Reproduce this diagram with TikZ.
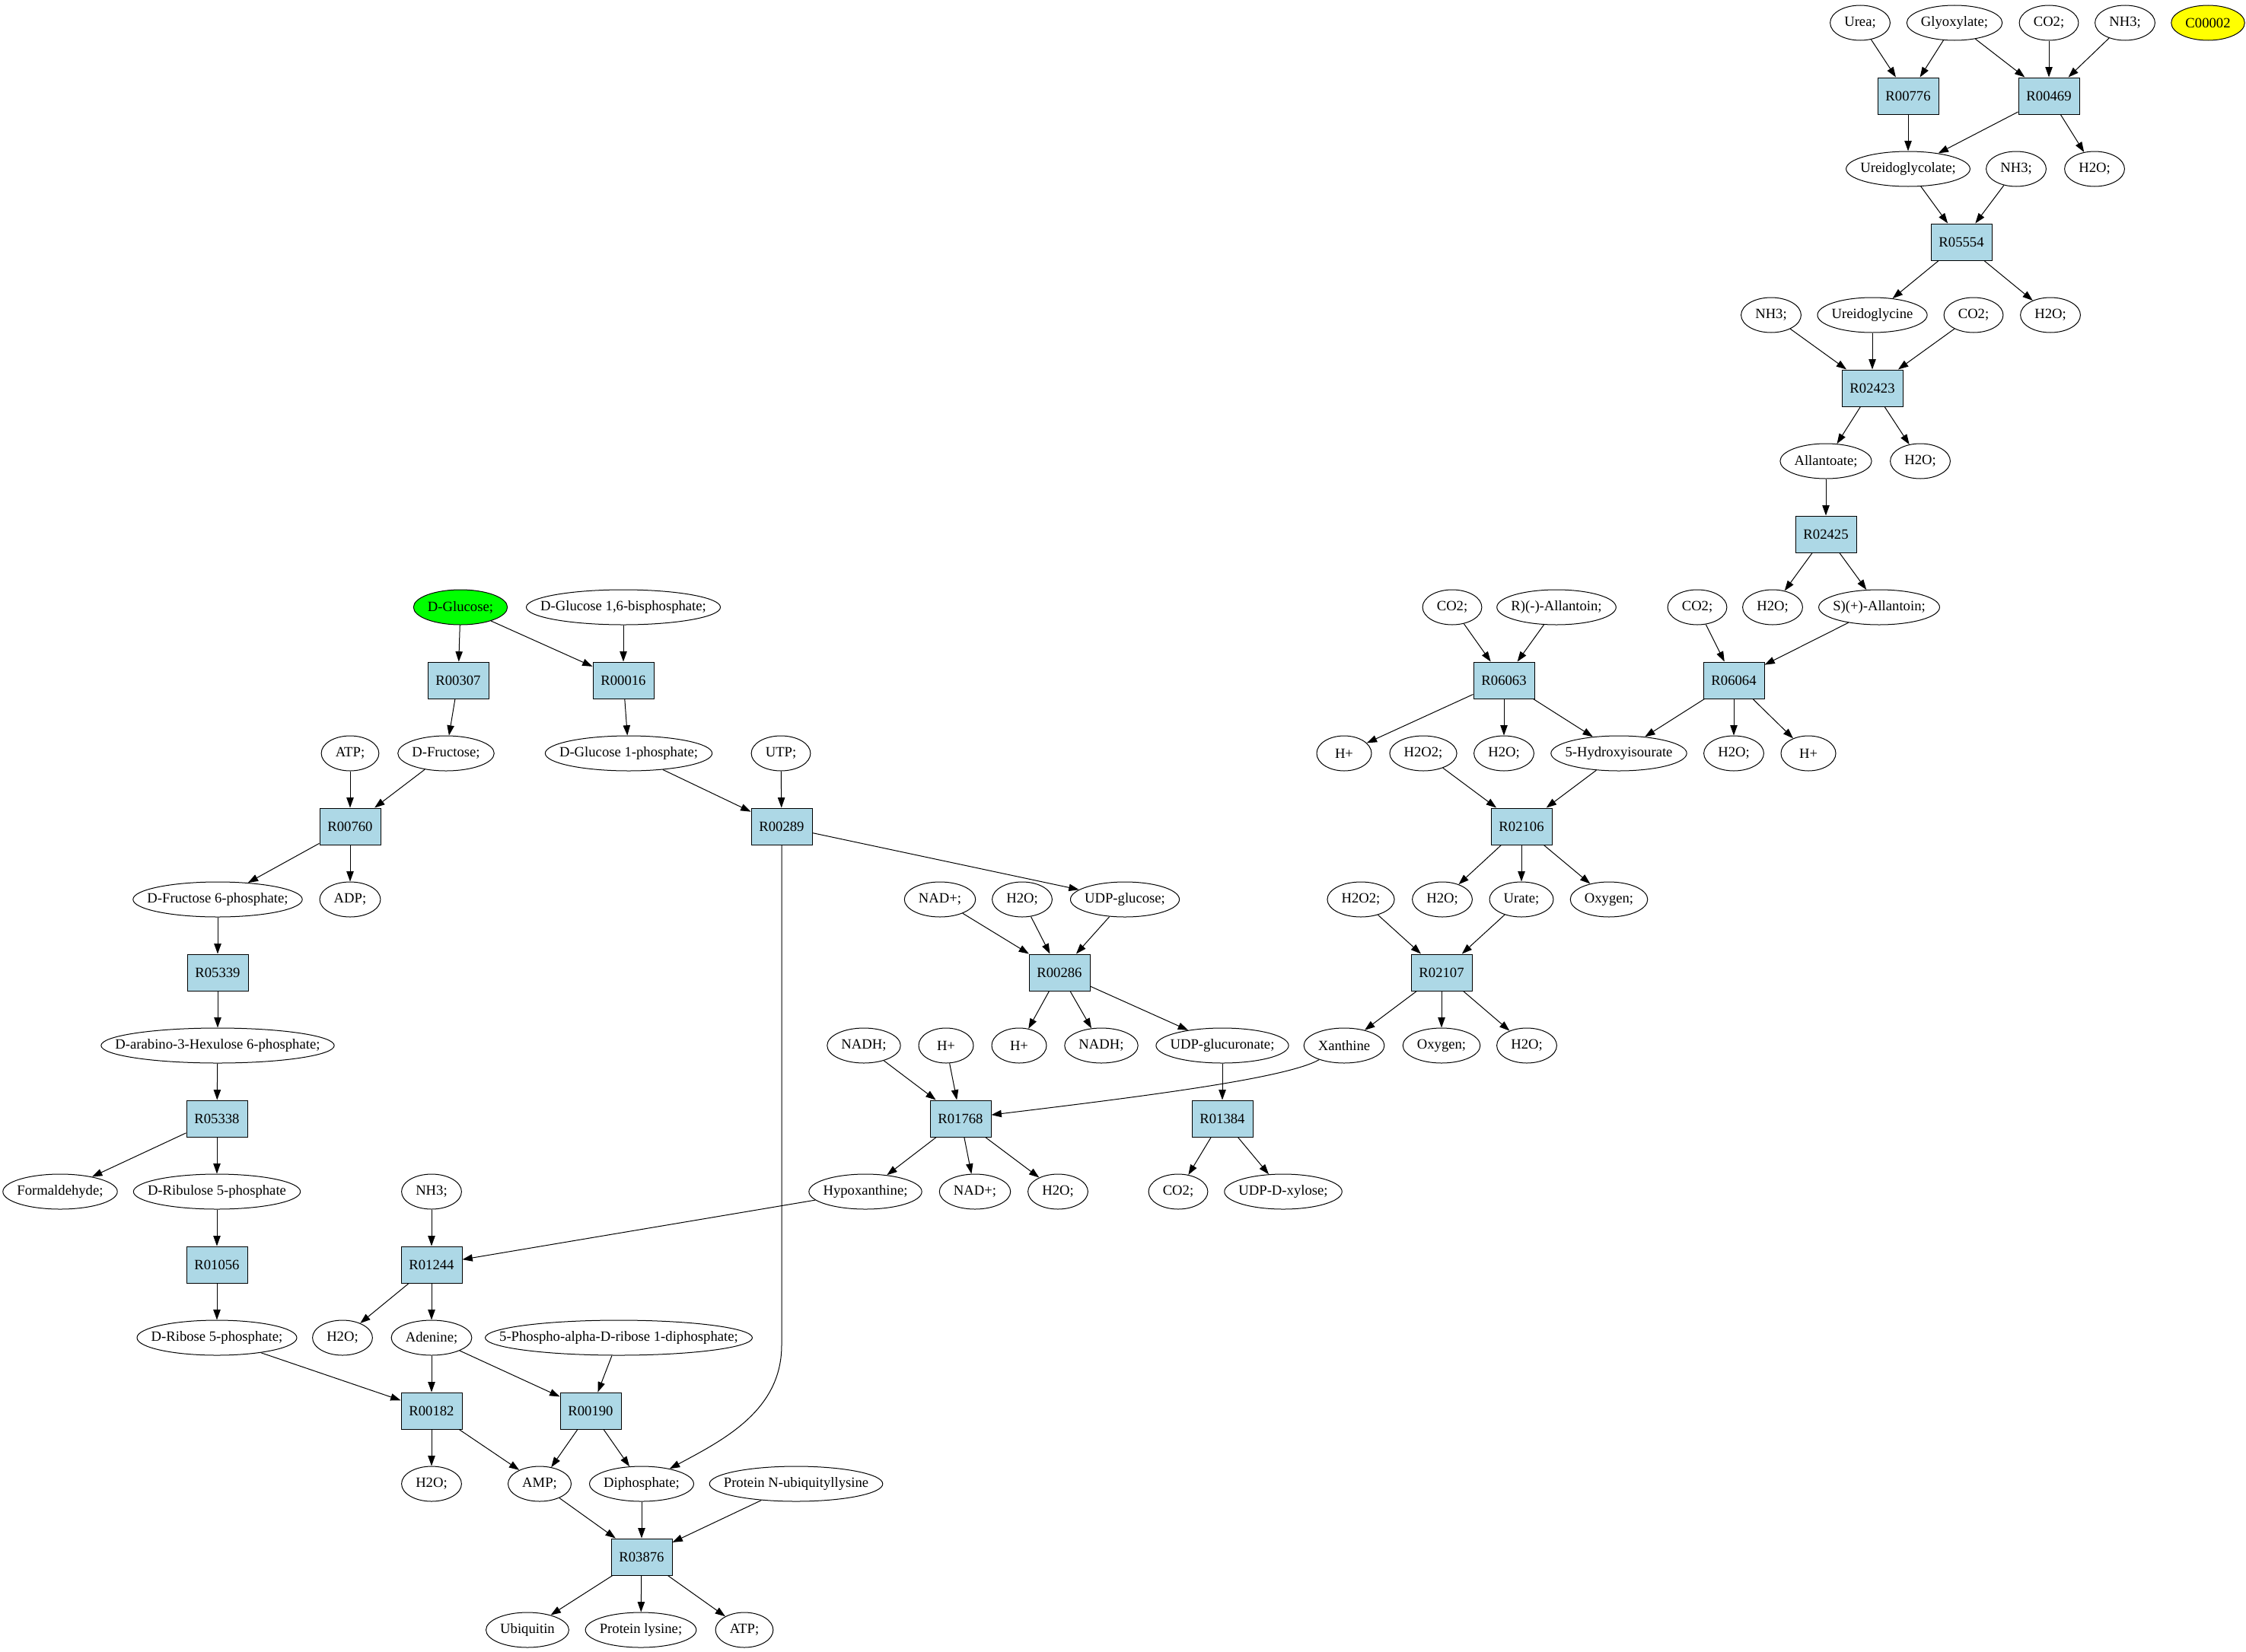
\documentclass[tikz,border=0pt]{standalone}
\usepackage{fontspec}
\setmainfont{Liberation Serif}
\usetikzlibrary{arrows.meta,shapes.geometric}
\definecolor{rxnblue}{RGB}{173,216,230}
\definecolor{glcgreen}{RGB}{0,255,0}
\definecolor{cpdyellow}{RGB}{255,255,0}
\newcommand\metfont{\fontsize{14pt}{17pt}\selectfont}
\newlength\metlen
% metabolite ellipse: name, position, label
\newcommand\met[4][]{\settowidth\metlen{\pgfinterruptpicture\metfont #4\endpgfinterruptpicture}%
  \node[met,minimum width={max(\metlen+28pt,54pt)},#1] (#2) at (#3) {\makebox[0pt]{#4}};}
\begin{document}
\begin{tikzpicture}[x=0.75pt,y=-72pt,
  rxn/.style={draw,fill=rxnblue,line width=0.75pt,minimum width=60pt,minimum height=36pt,inner sep=0pt,font=\metfont},
  met/.style={draw,ellipse,line width=0.75pt,minimum height=34.5pt,inner sep=0pt,font=\metfont},
  link/.style={-{Triangle[length=10pt,width=7pt]},line width=0.75pt}]
\useasboundingbox (0,0.6875) rectangle (2951,23.302);
% row 1
\met{urea}{2444,1}{Urea;}
\met{glyox}{2568,1}{Glyoxylate;}
\met{co2a}{2692,1}{CO2;}
\met{nh3a}{2792,1}{NH3;}
\met[fill=cpdyellow]{c00002}{2901,1}{C00002}
% row 2
\node[rxn] (r00776) at (2507,2) {R00776};
\node[rxn] (r00469) at (2692,2) {R00469};
% row 3
\met{uglyc}{2507,3}{Ureidoglycolate;}
\met{nh3b}{2649,3}{NH3;}
\met{h2oa}{2752,3}{H2O;}
% row 4
\node[rxn] (r05554) at (2577,4) {R05554};
% row 5
\met{nh3c}{2327,5}{NH3;}
\met{ugly}{2460,5}{Ureidoglycine}
\met{co2b}{2593,5}{CO2;}
\met{h2ob}{2694,5}{H2O;}
% row 6
\node[rxn] (r02423) at (2460,6) {R02423};
% row 7
\met{allan}{2399,7}{Allantoate;}
\met{h2oc}{2523,7}{H2O;}
% row 8
\node[rxn] (r02425) at (2399,8) {R02425};
% row 9
\met[fill=glcgreen]{glc}{605,9}{D-Glucose;}
\met{glcbis}{819,9}{D-Glucose 1,6-bisphosphate;}
\met{co2c}{1908,9}{CO2;}
\met{rallan}{2045,9}{R)(-)-Allantoin;}
\met{co2d}{2230,9}{CO2;}
\met{h2od}{2329,9}{H2O;}
\met{sallan}{2469,9}{S)(+)-Allantoin;}
% row 10
\node[rxn] (r00307) at (602,10) {R00307};
\node[rxn] (r00016) at (819,10) {R00016};
\node[rxn] (r06063) at (1976,10) {R06063};
\node[rxn] (r06064) at (2278,10) {R06064};
% row 11
\met{atpa}{460,11}{ATP;}
\met{fru}{586,11}{D-Fructose;}
\met{glc1p}{826,11}{D-Glucose 1-phosphate;}
\met{utp}{1026,11}{UTP;}
\met{hpa}{1766,11}{H+}
\met{h2o2a}{1870,11}{H2O2;}
\met{h2oe}{1976,11}{H2O;}
\met{hiu}{2127,11}{5-Hydroxyisourate}
\met{h2of}{2278,11}{H2O;}
\met{hpb}{2376,11}{H+}
% row 12
\node[rxn] (r00760) at (460,12) {R00760};
\node[rxn] (r00289) at (1027,12) {R00289};
\node[rxn] (r02106) at (1999,12) {R02106};
% row 13
\met{f6p}{286,13}{D-Fructose 6-phosphate;}
\met{adp}{460,13}{ADP;}
\met{nada}{1235,13}{NAD+;}
\met{h2og}{1343,13}{H2O;}
\met{udpglc}{1478,13}{UDP-glucose;}
\met{h2o2b}{1788,13}{H2O2;}
\met{h2oh}{1895,13}{H2O;}
\met{urate}{1999,13}{Urate;}
\met{oxya}{2114,13}{Oxygen;}
% row 14
\node[rxn] (r05339) at (286,14) {R05339};
\node[rxn] (r00286) at (1392,14) {R00286};
\node[rxn] (r02107) at (1894,14) {R02107};
% row 15
\met{hu6p}{286,15}{D-arabino-3-Hexulose 6-phosphate;}
\met{nadha}{1135,15}{NADH;}
\met{hpc}{1243,15}{H+}
\met{hpd}{1339,15}{H+}
\met{nadhb}{1447,15}{NADH;}
\met{udpgla}{1606,15}{UDP-glucuronate;}
\met{xan}{1766,15}{Xanthine}
\met{oxyb}{1894,15}{Oxygen;}
\met{h2oi}{2006,15}{H2O;}
% row 16
\node[rxn] (r05338) at (285,16) {R05338};
\node[rxn] (r01768) at (1262,16) {R01768};
\node[rxn] (r01384) at (1606,16) {R01384};
% row 17
\met{formald}{79,17}{Formaldehyde;}
\met{ru5p}{285,17}{D-Ribulose 5-phosphate}
\met{nh3d}{567,17}{NH3;}
\met{hypox}{1137,17}{Hypoxanthine;}
\met{nadb}{1281,17}{NAD+;}
\met{h2oj}{1390,17}{H2O;}
\met{co2e}{1548,17}{CO2;}
\met{udpxyl}{1686,17}{UDP-D-xylose;}
% row 18
\node[rxn] (r01056) at (285,18) {R01056};
\node[rxn] (r01244) at (567,18) {R01244};
% row 19
\met{r5p}{285,19}{D-Ribose 5-phosphate;}
\met{h2ok}{450,19}{H2O;}
\met{ade}{567,19}{Adenine;}
\met{prpp}{813,19}{5-Phospho-alpha-D-ribose 1-diphosphate;}
% row 20
\node[rxn] (r00182) at (567,20) {R00182};
\node[rxn] (r00190) at (776,20) {R00190};
% row 21
\met{h2ol}{567,21}{H2O;}
\met{amp}{709,21}{AMP;}
\met{ppi}{843,21}{Diphosphate;}
\met{protub}{1046,21}{Protein N-ubiquityllysine}
% row 22
\node[rxn] (r03876) at (843,22) {R03876};
% row 23
\met{ubq}{693,23}{Ubiquitin}
\met{protlys}{842,23}{Protein lysine;}
\met{atpb}{978,23}{ATP;}
\coordinate (r289bend) at (1027,19.1);
% urea / glyoxylate branch
\path[draw,link] (urea) -- (r00776);
\path[draw,link] (glyox) -- (r00776);
\path[draw,link] (glyox) -- (r00469);
\path[draw,link] (co2a) -- (r00469);
\path[draw,link] (nh3a) -- (r00469);
\path[draw,link] (r00776) -- (uglyc);
\path[draw,link] (r00469) -- (uglyc);
\path[draw,link] (r00469) -- (h2oa);
\path[draw,link] (uglyc) -- (r05554);
\path[draw,link] (nh3b) -- (r05554);
\path[draw,link] (r05554) -- (ugly);
\path[draw,link] (r05554) -- (h2ob);
\path[draw,link] (nh3c) -- (r02423);
\path[draw,link] (ugly) -- (r02423);
\path[draw,link] (co2b) -- (r02423);
\path[draw,link] (r02423) -- (allan);
\path[draw,link] (r02423) -- (h2oc);
\path[draw,link] (allan) -- (r02425);
\path[draw,link] (r02425) -- (h2od);
\path[draw,link] (r02425) -- (sallan);
% allantoin / urate branch
\path[draw,link] (co2c) -- (r06063);
\path[draw,link] (rallan) -- (r06063);
\path[draw,link] (co2d) -- (r06064);
\path[draw,link] (sallan) -- (r06064);
\path[draw,link] (r06063) -- (hpa);
\path[draw,link] (r06063) -- (h2oe);
\path[draw,link] (r06063) -- (hiu);
\path[draw,link] (r06064) -- (hiu);
\path[draw,link] (r06064) -- (h2of);
\path[draw,link] (r06064) -- (hpb);
\path[draw,link] (h2o2a) -- (r02106);
\path[draw,link] (hiu) -- (r02106);
\path[draw,link] (r02106) -- (h2oh);
\path[draw,link] (r02106) -- (urate);
\path[draw,link] (r02106) -- (oxya);
\path[draw,link] (h2o2b) -- (r02107);
\path[draw,link] (urate) -- (r02107);
\path[draw,link] (r02107) -- (xan);
\path[draw,link] (r02107) -- (oxyb);
\path[draw,link] (r02107) -- (h2oi);
\path[draw,link] (xan) .. controls (1690,15.45) and (1500,15.7) .. (r01768);
\path[draw,link] (nadha) -- (r01768);
\path[draw,link] (hpc) -- (r01768);
\path[draw,link] (r01768) -- (hypox);
\path[draw,link] (r01768) -- (nadb);
\path[draw,link] (r01768) -- (h2oj);
\path[draw,link] (hypox) -- (r01244);
\path[draw,link] (nh3d) -- (r01244);
\path[draw,link] (r01244) -- (h2ok);
\path[draw,link] (r01244) -- (ade);
\path[draw,link] (ade) -- (r00182);
\path[draw,link] (ade) -- (r00190);
\path[draw,link] (r5p) -- (r00182);
\path[draw,link] (prpp) -- (r00190);
\path[draw,link] (r00182) -- (h2ol);
\path[draw,link] (r00182) -- (amp);
\path[draw,link] (r00190) -- (amp);
\path[draw,link] (r00190) -- (ppi);
\path[draw,link] (amp) -- (r03876);
\path[draw,link] (ppi) -- (r03876);
\path[draw,link] (protub) -- (r03876);
\path[draw,link] (r03876) -- (ubq);
\path[draw,link] (r03876) -- (protlys);
\path[draw,link] (r03876) -- (atpb);
% glucose branch
\path[draw,link] (glc) -- (r00307);
\path[draw,link] (glc) -- (r00016);
\path[draw,link] (glcbis) -- (r00016);
\path[draw,link] (r00307) -- (fru);
\path[draw,link] (r00016) -- (glc1p);
\path[draw,link] (atpa) -- (r00760);
\path[draw,link] (fru) -- (r00760);
\path[draw,link] (r00760) -- (f6p);
\path[draw,link] (r00760) -- (adp);
\path[draw,link] (f6p) -- (r05339);
\path[draw,link] (r05339) -- (hu6p);
\path[draw,link] (hu6p) -- (r05338);
\path[draw,link] (r05338) -- (formald);
\path[draw,link] (r05338) -- (ru5p);
\path[draw,link] (ru5p) -- (r01056);
\path[draw,link] (r01056) -- (r5p);
\path[draw,link] (glc1p) -- (r00289);
\path[draw,link] (utp) -- (r00289);
\path[draw,link] (r00289) -- (udpglc);
\path[draw,link] (r00289) -- (r289bend) .. controls (1027,20.0) and (950,20.4) .. (ppi);
\path[draw,link] (nada) -- (r00286);
\path[draw,link] (h2og) -- (r00286);
\path[draw,link] (udpglc) -- (r00286);
\path[draw,link] (r00286) -- (hpd);
\path[draw,link] (r00286) -- (nadhb);
\path[draw,link] (r00286) -- (udpgla);
\path[draw,link] (udpgla) -- (r01384);
\path[draw,link] (r01384) -- (co2e);
\path[draw,link] (r01384) -- (udpxyl);
\end{tikzpicture}
\end{document}
